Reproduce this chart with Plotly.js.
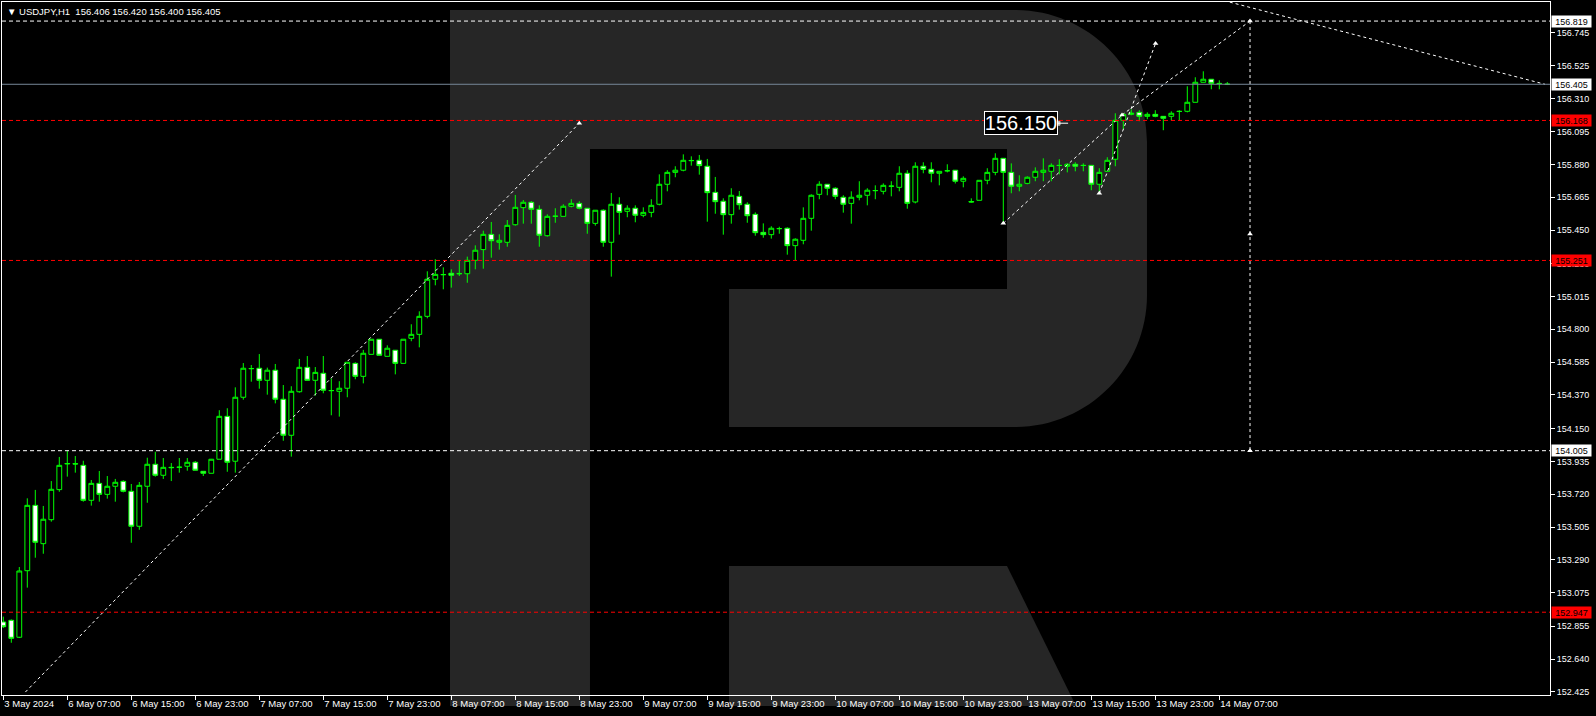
<!DOCTYPE html>
<html><head><meta charset="utf-8">
<script src="https://cdn.plot.ly/plotly-3.0.1.min.js"></script>
<style>html,body{margin:0;padding:0;background:#000;overflow:hidden}#chart{width:1596px;height:716px}</style>
</head><body><div id="chart"></div>
<script>
// ---- USDJPY H1 bars (bar 0 = 3 May 23:00) ----
const barOpen = [152.883,152.894,152.783,153.219,153.647,153.396,153.553,153.750,153.918,153.920,
153.909,153.680,153.791,153.719,153.772,153.804,153.739,153.510,153.772,153.916,
153.844,153.896,153.896,153.903,153.929,153.870,153.857,153.949,154.230,153.936,
154.355,154.542,154.545,154.466,154.532,154.342,154.106,154.391,154.551,154.466,
154.512,154.398,154.394,154.414,154.577,154.492,154.636,154.735,154.623,154.663,
154.577,154.741,154.767,154.885,155.128,155.159,155.167,155.166,155.164,155.252,
155.322,155.422,155.370,155.370,155.485,155.597,155.632,155.586,155.413,155.540,
155.540,155.606,155.625,155.593,155.494,155.580,155.370,155.619,155.573,155.593,
155.547,155.566,155.619,155.750,155.828,155.842,155.906,155.907,155.868,155.697,
155.639,155.551,155.671,155.619,155.553,155.435,155.420,155.459,155.462,155.348,
155.383,155.527,155.684,155.750,155.724,155.665,155.625,155.665,155.678,155.708,
155.704,155.737,155.730,155.822,155.634,155.868,155.848,155.822,155.839,155.842,
155.770,155.637,155.645,155.776,155.828,155.920,155.828,155.737,155.756,155.796,
155.828,155.835,155.874,155.868,155.881,155.874,155.874,155.750,155.835,155.914,
156.169,156.208,156.221,156.195,156.208,156.195,156.195,156.228,156.228,156.287,
156.418,156.438,156.411,156.406];
const barHigh = [152.918,152.900,153.243,153.693,153.748,153.643,153.806,153.964,154.003,153.970,
153.939,153.813,153.872,153.839,153.820,153.811,153.787,153.800,153.959,153.998,
153.957,153.924,153.957,153.957,153.937,153.872,153.951,154.270,154.283,154.420,
154.579,154.566,154.638,154.549,154.573,154.435,154.427,154.606,154.625,154.553,
154.625,154.479,154.460,154.584,154.584,154.665,154.735,154.735,154.695,154.663,
154.735,154.833,154.918,155.180,155.259,155.206,155.193,155.254,155.276,155.350,
155.446,155.503,155.422,155.516,155.680,155.647,155.640,155.612,155.553,155.593,
155.619,155.652,155.639,155.593,155.580,155.586,155.693,155.665,155.612,155.612,
155.599,155.652,155.815,155.842,155.868,155.946,155.933,155.942,155.916,155.798,
155.658,155.724,155.706,155.632,155.566,155.494,155.475,155.472,155.468,155.396,
155.599,155.684,155.770,155.750,155.730,155.678,155.704,155.770,155.724,155.743,
155.756,155.770,155.868,155.842,155.894,155.894,155.894,155.835,155.881,155.842,
155.802,155.658,155.776,155.855,155.953,155.920,155.887,155.809,155.802,155.861,
155.920,155.887,155.914,155.887,155.894,155.887,155.874,155.855,155.927,156.215,
156.215,156.241,156.235,156.221,156.235,156.195,156.228,156.235,156.392,156.451,
156.490,156.438,156.431,156.420];
const barLow = [152.844,152.747,152.778,153.108,153.304,153.330,153.540,153.736,153.835,153.861,
153.671,153.645,153.671,153.691,153.671,153.732,153.402,153.487,153.664,153.835,
153.820,153.806,153.861,153.874,153.877,153.839,153.857,153.949,153.867,153.861,
154.339,154.457,154.411,154.372,154.315,154.070,153.966,154.385,154.466,154.365,
154.381,154.237,154.228,154.355,154.473,154.446,154.636,154.630,154.623,154.505,
154.577,154.722,154.682,154.872,155.088,155.062,155.073,155.149,155.105,155.193,
155.197,155.269,155.322,155.341,155.479,155.492,155.492,155.341,155.407,155.498,
155.540,155.599,155.586,155.426,155.479,155.341,155.145,155.420,155.534,155.501,
155.534,155.534,155.612,155.704,155.796,155.835,155.872,155.813,155.505,155.557,
155.420,155.492,155.584,155.498,155.413,155.400,155.394,155.426,155.289,155.254,
155.357,155.446,155.652,155.678,155.652,155.564,155.492,155.645,155.612,155.652,
155.684,155.671,155.704,155.590,155.625,155.822,155.763,155.743,155.828,155.755,
155.730,155.630,155.645,155.750,155.809,155.494,155.691,155.704,155.750,155.770,
155.770,155.770,155.815,155.828,155.835,155.835,155.711,155.691,155.835,155.868,
156.110,156.202,156.163,156.176,156.189,156.104,156.169,156.169,156.221,156.287,
156.418,156.372,156.372,156.400];
const barClose = [152.852,152.776,153.217,153.647,153.405,153.556,153.752,153.909,153.921,153.918,
153.680,153.791,153.719,153.772,153.798,153.739,153.510,153.778,153.916,153.844,
153.896,153.894,153.897,153.929,153.877,153.857,153.949,154.230,153.929,154.355,
154.545,154.543,154.466,154.532,154.342,154.106,154.394,154.551,154.466,154.518,
154.401,154.399,154.414,154.584,154.492,154.643,154.735,154.630,154.676,154.577,
154.735,154.767,154.885,155.128,155.160,155.158,155.154,155.164,155.252,155.318,
155.422,155.380,155.383,155.481,155.599,155.632,155.586,155.416,155.540,155.541,
155.606,155.625,155.593,155.494,155.580,155.370,155.619,155.566,155.593,155.547,
155.566,155.612,155.750,155.828,155.842,155.907,155.905,155.872,155.695,155.636,
155.551,155.678,155.616,155.544,155.433,155.420,155.462,155.460,155.348,155.390,
155.527,155.678,155.750,155.724,155.671,155.619,155.665,155.678,155.711,155.709,
155.743,155.738,155.822,155.625,155.868,155.848,155.822,155.835,155.838,155.770,
155.789,155.634,155.776,155.828,155.920,155.828,155.737,155.750,155.796,155.835,
155.842,155.874,155.873,155.881,155.868,155.873,155.750,155.828,155.907,156.169,
156.208,156.215,156.195,156.208,156.195,156.182,156.215,156.227,156.287,156.418,
156.438,156.411,156.410,156.405];

// time axis labels (every 8 bars)
const timeTickBars = [0,8,16,24,32,40,48,56,64,72,80,88,96,104,112,120,128,136,144,152];
const timeTickLabels = ["3 May 2024","6 May 07:00","6 May 15:00","6 May 23:00","7 May 07:00","7 May 15:00",
"7 May 23:00","8 May 07:00","8 May 15:00","8 May 23:00","9 May 07:00","9 May 15:00","9 May 23:00",
"10 May 07:00","10 May 15:00","10 May 23:00","13 May 07:00","13 May 15:00","13 May 23:00","14 May 07:00"];
// price axis labels
const priceTicks = [156.745,156.525,156.310,156.095,155.880,155.665,155.450,155.230,155.015,154.800,
154.585,154.370,154.150,153.935,153.720,153.505,153.290,153.075,152.855,152.640,152.425];
const priceTickLabels = priceTicks.map(v => v.toFixed(3));

// horizontal levels
const levelPrices = [156.819, 156.405, 156.168, 155.251, 154.005, 152.947];
const levelKinds  = ["white", "bid", "red", "red", "white", "red"];

// analyst drawings (bar index, price)
const waveLineX = [[2.76, 72.0],[125, 139.84],[139.84, 155.84],[137, 144.03],[155.84, 155.84],[144.6, 192.71]];
const waveLineY = [[152.424, 156.150],[155.494, 156.204],[156.204, 156.819],[155.691, 156.672],[156.819, 154.005],[157.062, 156.405]];
const wavePointX = [72.0, 125, 137, 139.84, 144.03, 155.84, 155.84, 155.84];
const wavePointY = [156.150, 155.494, 155.691, 156.204, 156.672, 156.819, 155.424, 154.005];
const targetPrice = 156.150;
const targetBarX = [131.84, 133.1];

const headerText = "▼ USDJPY,H1  156.406 156.420 156.400 156.405";

// ---- layout geometry ----
const W = 1596, H = 716;
const M = {l: 2, r: 46, t: 2, b: 21};
const PW = W - M.l - M.r, PH = H - M.t - M.b;
function P(x, y) { return ((x - M.l) / PW).toFixed(5) + ',' + (1 - (y - M.t) / PH).toFixed(5); }

const barIndex = barOpen.map((_, i) => i);
const traces = [];
traces.push({
  type: 'candlestick', x: barIndex, open: barOpen, high: barHigh, low: barLow, close: barClose,
  increasing: {line: {color: '#00ff00', width: 1}, fillcolor: '#000000'},
  decreasing: {line: {color: '#00ff00', width: 1}, fillcolor: '#ffffff'},
  whiskerwidth: 0, hoverinfo: 'skip', showlegend: false
});
waveLineX.forEach((xs, k) => {
  traces.push({type: 'scatter', mode: 'lines', x: xs, y: waveLineY[k],
    line: {color: '#ffffff', width: 1, dash: '3px,3px'}, hoverinfo: 'skip', showlegend: false});
});
traces.push({type: 'scatter', mode: 'markers', x: wavePointX, y: wavePointY,
  marker: {symbol: 'triangle-up', size: 5, color: '#ffffff'}, hoverinfo: 'skip', showlegend: false});
traces.push({type: 'scatter', mode: 'lines+markers', x: targetBarX, y: [targetPrice, targetPrice],
  line: {color: '#ffffff', width: 1}, marker: {symbol: 'square', size: [4, 0], color: '#ffffff'},
  hoverinfo: 'skip', showlegend: false});

const shapes = [];
const logo = '#262626';
shapes.push({type: 'path', xref: 'paper', yref: 'paper', layer: 'below', fillcolor: logo, line: {width: 0},
  path: `M ${P(450,10)} L ${P(1015,10)} C ${P(1087.9,10)} ${P(1147,69.1)} ${P(1147,142)} L ${P(1147,295)} C ${P(1147,367.9)} ${P(1087.9,427)} ${P(1015,427)} L ${P(729,427)} L ${P(729,289)} L ${P(1007,289)} L ${P(1007,149)} L ${P(590,149)} L ${P(590,706)} L ${P(450,706)} Z`});
shapes.push({type: 'path', xref: 'paper', yref: 'paper', layer: 'below', fillcolor: logo, line: {width: 0},
  path: `M ${P(729,566)} L ${P(1007,566)} L ${P(1076,706)} L ${P(729,706)} Z`});

const annotations = [];
levelPrices.forEach((p, k) => {
  const kind = levelKinds[k];
  const col = kind === 'red' ? '#ff0000' : (kind === 'bid' ? '#778899' : '#ffffff');
  shapes.push({type: 'line', xref: 'paper', yref: 'y', x0: 0, x1: 1, y0: p, y1: p, layer: 'above',
    line: {color: col, width: 1, dash: kind === 'bid' ? 'solid' : '4px,3px'}});
  annotations.push({xref: 'paper', yref: 'y', x: 1, y: p, xanchor: 'left', yanchor: 'middle', xshift: 1,
    text: p.toFixed(3), showarrow: false, bgcolor: kind === 'red' ? '#ff0000' : '#ffffff',
    font: {family: 'Liberation Sans, Arial, sans-serif', size: 9, color: '#000000'},
    width: 39, height: 11, borderpad: 0, align: 'center'});
});
annotations.push({xref: 'x', yref: 'y', x: targetBarX[0], y: targetPrice, xanchor: 'right', yanchor: 'middle',
  text: targetPrice.toFixed(3), showarrow: false, bgcolor: '#000000', bordercolor: '#ffffff', borderwidth: 1,
  borderpad: 0, width: 72, height: 22, font: {family: 'Liberation Sans, Arial, sans-serif', size: 20, color: '#ffffff'}});
annotations.push({xref: 'paper', yref: 'paper', x: (5 - M.l) / PW, y: 1 - (11 - M.t) / PH, xanchor: 'left', yanchor: 'middle',
  text: headerText, showarrow: false, font: {family: 'Liberation Sans, Arial, sans-serif', size: 9.5, color: '#ffffff'}});

const layout = {
  width: W, height: H, margin: {l: M.l, r: M.r, t: M.t, b: M.b, pad: 0},
  paper_bgcolor: '#000000', plot_bgcolor: '#000000', showlegend: false,
  boxgap: 0.4, boxgroupgap: 0,
  xaxis: {range: [(M.l - 3.3) / 8, (W - M.r - 3.3) / 8], showgrid: false, zeroline: false,
    showline: true, mirror: true, linecolor: '#ffffff', linewidth: 1,
    ticks: 'outside', ticklen: 4, tickcolor: '#ffffff', tickwidth: 1, tickangle: 0,
    tickmode: 'array', tickvals: timeTickBars, ticktext: timeTickLabels, ticklabelposition: 'outside right',
    tickfont: {family: 'Liberation Sans, Arial, sans-serif', size: 9.5, color: '#ffffff'},
    rangeslider: {visible: false}, fixedrange: true},
  yaxis: {side: 'right', range: [156.957 - 695 * 0.00655, 156.957 - 2 * 0.00655], showgrid: false, zeroline: false,
    showline: true, mirror: true, linecolor: '#ffffff', linewidth: 1,
    ticks: 'outside', ticklen: 4, tickcolor: '#ffffff', tickwidth: 1,
    tickmode: 'array', tickvals: priceTicks, ticktext: priceTickLabels,
    tickfont: {family: 'Liberation Sans, Arial, sans-serif', size: 9, color: '#ffffff'}, fixedrange: true},
  shapes: shapes, annotations: annotations
};
Plotly.newPlot('chart', traces, layout, {displayModeBar: false, staticPlot: true});
</script></body></html>
